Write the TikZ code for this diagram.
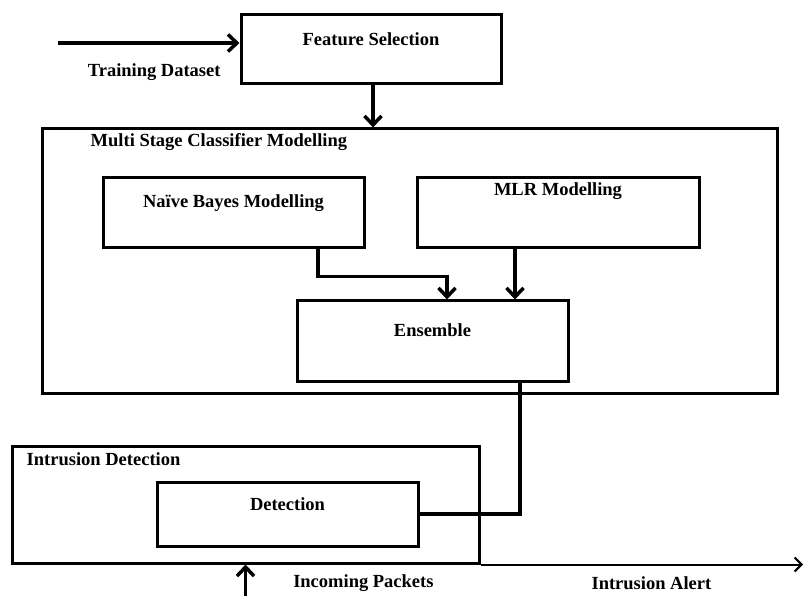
\documentclass[tikz,border=0pt]{standalone}
\usepackage{fontspec}
\setmainfont{Liberation Serif}
\usetikzlibrary{arrows.meta}

\begin{document}
\begin{tikzpicture}[x=1pt,y=-1pt,
		font=\fontsize{18.5}{20}\selectfont\bfseries,
		block/.style={draw, rectangle, line width=3pt, inner sep=0pt},
		caption/.style={inner sep=0pt, anchor=center},
		flow/.style={line width=3.5pt, -{Straight Barb[length=9pt,width=17pt]}},
		link/.style={line width=3.5pt}
	]
	\useasboundingbox (0,0) rectangle (804,596);

	\node[block, minimum width=260pt, minimum height=69pt] (feat_sel) at (371,49.5)
		[label={[caption, yshift=-26pt]north:Feature Selection}] {};

	\node[block, minimum width=735pt, minimum height=264pt] (clf) at (409.5,261)
		[label={[caption, anchor=west, xshift=50pt, yshift=-15pt]north west:Multi Stage Classifier Modelling}] {};
	\node[block, minimum width=261pt, minimum height=70pt] (nb) at (233.5,213)
		[label={[caption, yshift=-27pt]north:Naïve Bayes Modelling}] {};
	\node[block, minimum width=282pt, minimum height=70pt] (mlr) at (558,213)
		[label={[caption, yshift=-15pt]north:MLR Modelling}] {};
	\node[block, minimum width=271pt, minimum height=80pt] (ens) at (432.5,341)
		[label={[caption, yshift=-31pt]north:Ensemble}] {};

	\node[block, minimum width=467pt, minimum height=117pt] (intr) at (245.5,504.5)
		[label={[caption, anchor=west, xshift=16pt, yshift=-15pt]north west:Intrusion Detection}] {};
	\node[block, minimum width=261pt, minimum height=64pt] (det) at (287.5,514)
		[label={[caption, yshift=-24pt]north:Detection}] {};

	\coordinate (data_in) at (58,43);
	\coordinate (pkt_in) at (245.5,596);
	\coordinate (alert_out) at (803,563);

	\draw[flow] (data_in) -- (data_in -| feat_sel.west) node[caption, pos=0.53, yshift=-29pt] {Training Dataset};
	\draw[flow] ([xshift=2pt]feat_sel.south) -- ([xshift=2pt]feat_sel.south |- clf.north);

	\draw[flow] ([xshift=84.5pt]nb.south) -- ++(0,27) -| ([xshift=14.5pt]ens.north);
	\draw[flow] ([xshift=82.5pt]ens.north |- mlr.south) -- ([xshift=82.5pt]ens.north);

	\draw[link] ([xshift=87.5pt]ens.south) |- (det.east);

	\draw[flow] (pkt_in) -- (intr.south) node[caption, anchor=west, pos=0.42, xshift=46pt] {Incoming Packets};
	\draw[line width=2pt, -{Straight Barb[length=7pt,width=14pt]}] (intr.south east) -- (intr.south east -| alert_out)
		node[caption, pos=0.53, yshift=-19pt] {Intrusion Alert};
\end{tikzpicture}
\end{document}
